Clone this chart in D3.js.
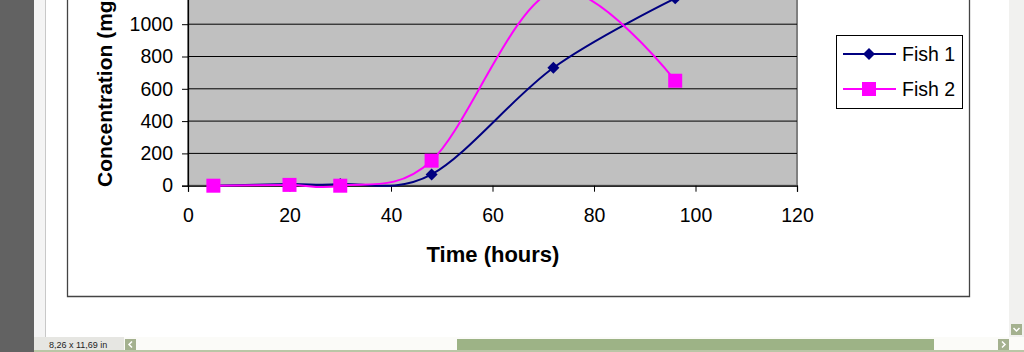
<!DOCTYPE html>
<meta charset="utf-8">
<style>
body { margin: 0; background: #fff; }
svg { display: block; font-family: "Liberation Sans", Arial, sans-serif; }
</style>
<body>
<script src="https://d3js.org/d3.v7.min.js"></script>
<script>
// data
var hours = [5, 20, 30, 48, 72, 96];
var fish1 = [0, 10, 10, 70, 730, 1160];
var fish2 = [0, 5, 0, 155, 1205, 650];
var xTicks = [0, 20, 40, 60, 80, 100, 120];
var yTicks = [0, 200, 400, 600, 800, 1000, 1200, 1400];
var seriesNames = ["Fish 1", "Fish 2"];

var width = 1024, height = 352;

var svg = d3.select("body").append("svg")
    .attr("width", width)
    .attr("height", height);

// window chrome round the document page
svg.append("rect").attr("x", 0).attr("y", 0).attr("width", 34).attr("height", height).attr("fill", "#626262");
svg.append("rect").attr("x", 34).attr("y", 0).attr("width", 11).attr("height", height).attr("fill", "#f4f4f4");
svg.append("line").attr("x1", 45.5).attr("x2", 45.5).attr("y1", 0).attr("y2", 337).attr("stroke", "#c8c8c8");
svg.append("rect").attr("x", 1009).attr("y", 0).attr("width", 15).attr("height", 337).attr("fill", "#f1f1ef");
svg.append("rect").attr("x", 1011).attr("y", 324).attr("width", 11).attr("height", 11).attr("fill", "#a4b18f");
svg.append("path").attr("d", "M1013.5,328 L1016.5,331 L1019.5,328").attr("fill", "none").attr("stroke", "#fff").attr("stroke-width", 1.5);

// status bar + horizontal scroll bar
svg.append("rect").attr("x", 34).attr("y", 337).attr("width", 990).attr("height", 15).attr("fill", "#fbfbf8");
svg.append("rect").attr("x", 34).attr("y", 337).attr("width", 90).attr("height", 15).attr("fill", "#e6e6e2");
svg.append("text").attr("x", 49).attr("y", 348).attr("font-size", 9).attr("fill", "#222").text("8,26 x 11,69 in");
svg.append("rect").attr("x", 125).attr("y", 339).attr("width", 11).attr("height", 11).attr("fill", "#a4b18f");
svg.append("path").attr("d", "M132,341.5 L129,344.5 L132,347.5").attr("fill", "none").attr("stroke", "#fff").attr("stroke-width", 1.5);
svg.append("rect").attr("x", 457).attr("y", 339).attr("width", 477).attr("height", 11).attr("fill", "#9db386");
svg.append("rect").attr("x", 998).attr("y", 339).attr("width", 11).attr("height", 11).attr("fill", "#a4b18f");
svg.append("path").attr("d", "M1002,341.5 L1005,344.5 L1002,347.5").attr("fill", "none").attr("stroke", "#fff").attr("stroke-width", 1.5);
svg.append("rect").attr("x", 34).attr("y", 350).attr("width", 990).attr("height", 2).attr("fill", "#b9c6a6");

// chart area border (top is off screen)
svg.append("path")
    .attr("d", "M67.5,-5 L67.5,296.5 L969.5,296.5 L969.5,-5")
    .attr("fill", "none").attr("stroke", "#444").attr("stroke-width", 1.3);

var x = d3.scaleLinear().domain([0, 120]).range([188, 797]);
var y = d3.scaleLinear().domain([0, 1400]).range([185.7, -40.4]);

// plot area
svg.append("rect")
    .attr("x", x(0)).attr("y", y(1400))
    .attr("width", x(120) - x(0)).attr("height", y(0) - y(1400))
    .attr("fill", "#c0c0c0").attr("stroke", "#808080").attr("stroke-width", 2);

svg.append("g").selectAll("line")
    .data(yTicks.filter(function(d){ return d > 0 && d < 1400; }))
    .enter().append("line")
    .attr("x1", x(0)).attr("x2", x(120))
    .attr("y1", function(d){ return y(d); }).attr("y2", function(d){ return y(d); })
    .attr("stroke", "#000").attr("stroke-width", 1);

// axes
var yAxis = svg.append("g")
    .attr("transform", "translate(" + x(0) + ",0)")
    .call(d3.axisLeft(y).tickValues(yTicks).tickFormat(d3.format("d")).tickSize(6).tickPadding(9));
var xAxis = svg.append("g")
    .attr("transform", "translate(0," + y(0) + ")")
    .call(d3.axisBottom(x).tickValues(xTicks).tickFormat(d3.format("d")).tickSize(6).tickPadding(16));
[yAxis, xAxis].forEach(function(a){
    a.select(".domain").attr("stroke", "#000").attr("stroke-width", 1.2);
    a.selectAll(".tick line").attr("stroke", "#000");
    a.selectAll("text").attr("font-size", 19.5).attr("fill", "#000")
        .attr("font-family", "Liberation Sans, Arial, sans-serif");
});
xAxis.selectAll("text").attr("dy", "0.71em");

// axis titles
svg.append("text")
    .attr("x", 493).attr("y", 262)
    .attr("text-anchor", "middle")
    .attr("font-size", 22).attr("font-weight", "bold")
    .text("Time (hours)");
svg.append("text")
    .attr("transform", "translate(112,187) rotate(-90)")
    .attr("text-anchor", "start")
    .attr("font-size", 21).attr("font-weight", "bold")
    .text("Concentration (mg/kg)");

var line = d3.line()
    .x(function(d){ return x(d[0]); })
    .y(function(d){ return y(d[1]); })
    .curve(d3.curveCardinal.tension(0));

var pts1 = hours.map(function(h, i){ return [h, fish1[i]]; });
var pts2 = hours.map(function(h, i){ return [h, fish2[i]]; });

var diamond = "M0,-6 L6,0 L0,6 L-6,0 Z";

svg.append("path").attr("d", line(pts1))
    .attr("fill", "none").attr("stroke", "#000080").attr("stroke-width", 2);
svg.append("g").selectAll("path")
    .data(pts1).enter().append("path")
    .attr("d", diamond)
    .attr("transform", function(d){ return "translate(" + x(d[0]) + "," + y(d[1]) + ")"; })
    .attr("fill", "#000080");

svg.append("path").attr("d", line(pts2))
    .attr("fill", "none").attr("stroke", "#ff00ff").attr("stroke-width", 2);
svg.append("g").selectAll("rect")
    .data(pts2).enter().append("rect")
    .attr("x", function(d){ return x(d[0]) - 7; })
    .attr("y", function(d){ return y(d[1]) - 7; })
    .attr("width", 14).attr("height", 14)
    .attr("fill", "#ff00ff");

// legend
var legend = svg.append("g");
legend.append("rect")
    .attr("x", 836.5).attr("y", 35.5).attr("width", 126).attr("height", 73)
    .attr("fill", "#fff").attr("stroke", "#000").attr("stroke-width", 1);
var colors = ["#000080", "#ff00ff"];
seriesNames.forEach(function(name, i){
    var ly = 54 + i * 35;
    legend.append("line")
        .attr("x1", 843).attr("x2", 896).attr("y1", ly).attr("y2", ly)
        .attr("stroke", colors[i]).attr("stroke-width", 2);
    if (i === 0) {
        legend.append("path").attr("d", diamond)
            .attr("transform", "translate(869," + ly + ")").attr("fill", colors[i]);
    } else {
        legend.append("rect").attr("x", 862).attr("y", ly - 7)
            .attr("width", 14).attr("height", 14).attr("fill", colors[i]);
    }
    legend.append("text")
        .attr("x", 902).attr("y", ly + 7)
        .attr("font-size", 19.5).attr("fill", "#000")
        .text(name);
});
</script>
</body>
</html>
